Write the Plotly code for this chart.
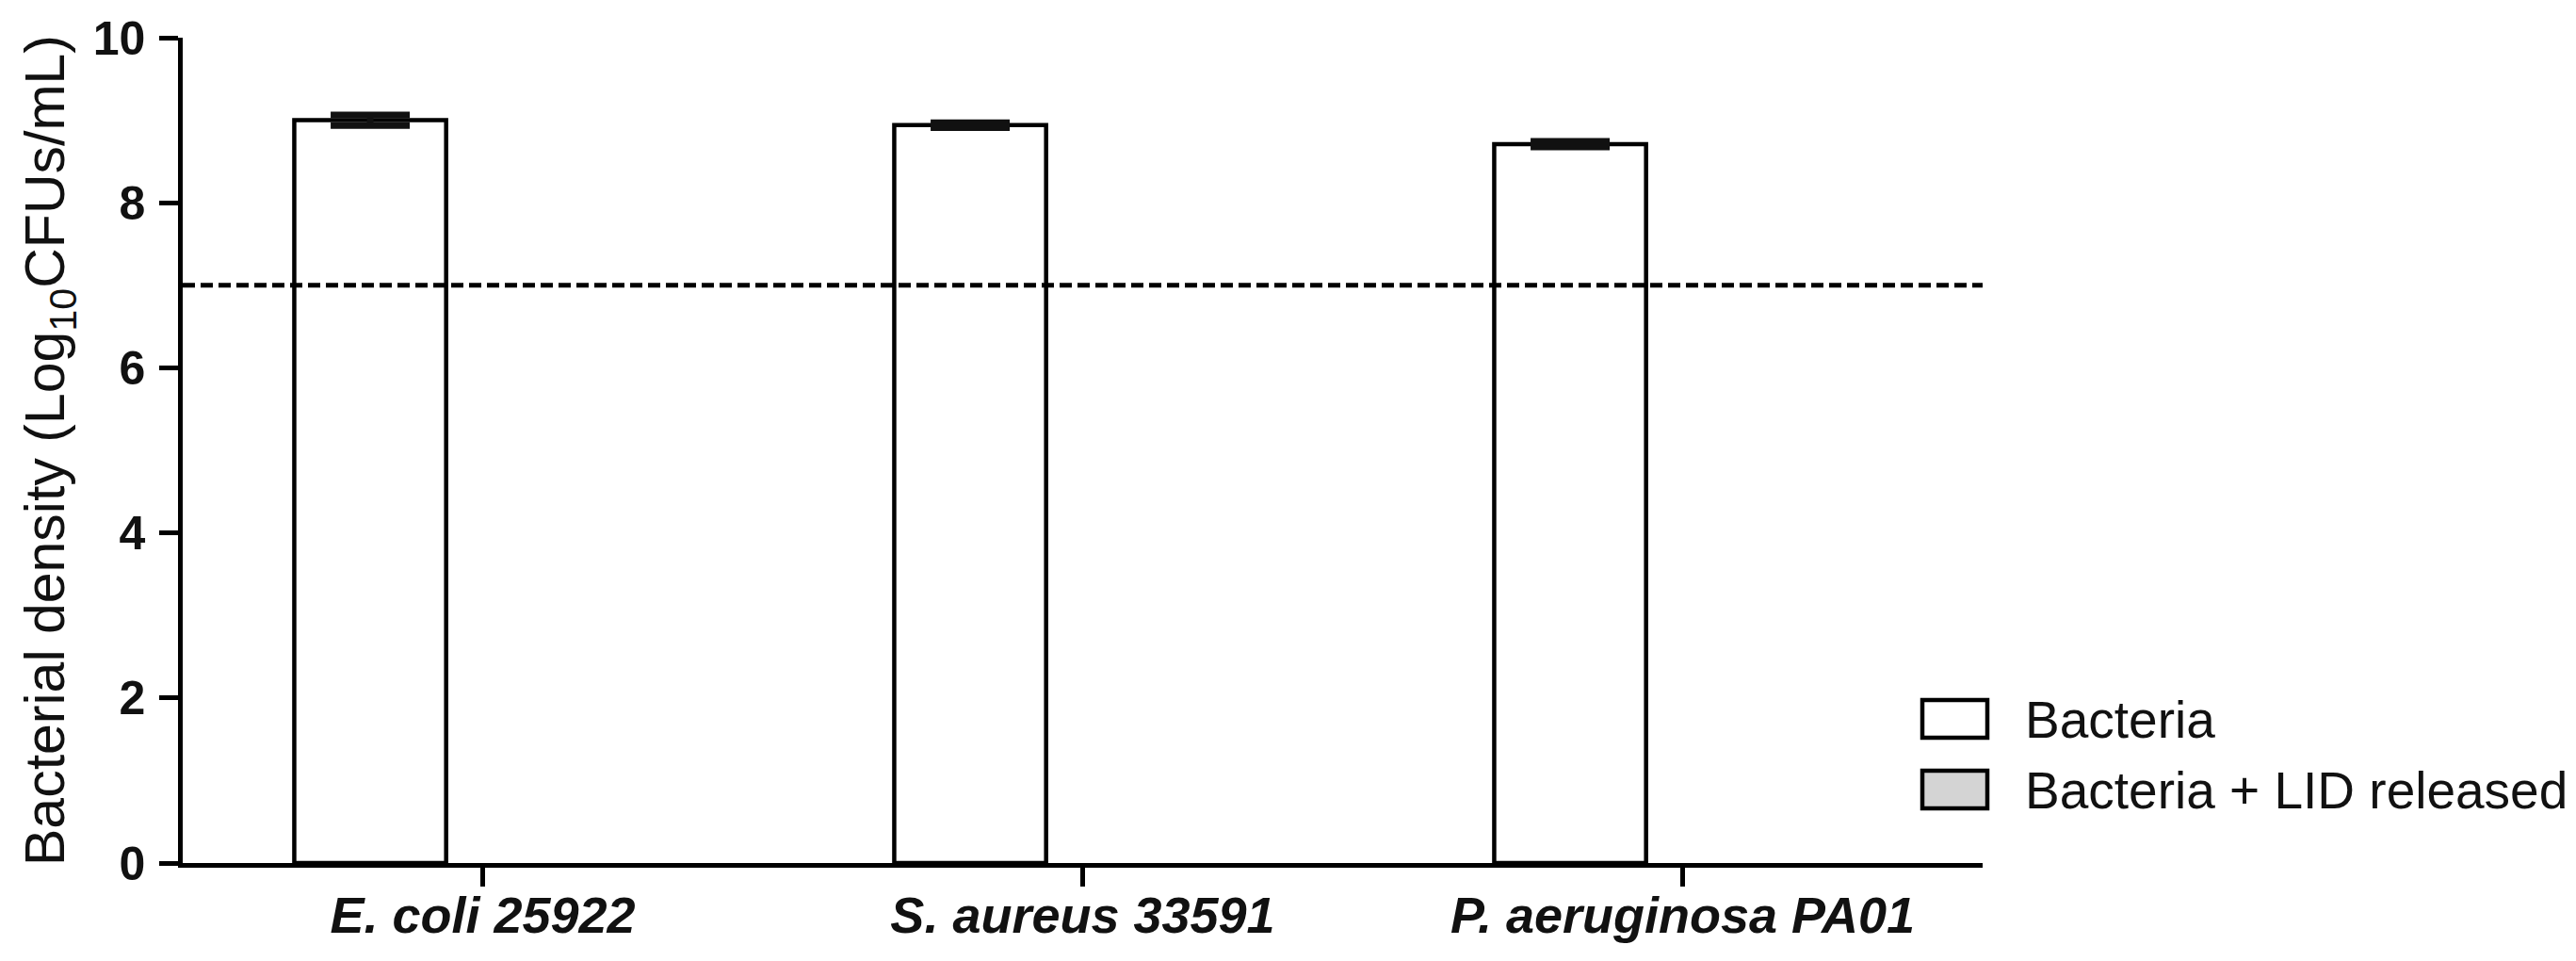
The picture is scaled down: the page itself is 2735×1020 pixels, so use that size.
import plotly.graph_objects as go

# ---- data ----
category_keys = ["E. coli 25922", "S. aureus 33591", "P. aeruginosa PA01"]
bacteria_values = [9.00, 8.94, 8.71]
bacteria_errors = [0.065, 0.03, 0.035]
lid_values = [0.0, 0.0, 0.0]
threshold = 7.0
y_ticks = [0, 2, 4, 6, 8, 10]
series_names = ["Bacteria", "Bacteria + LID released"]

W, H = 2735, 1020
L, R, T, B = 194, 630, 40, 104
PW, PH = W - L - R, H - T - B
FONT = "Liberation Sans, Arial, sans-serif"
LW = 4.5


def px_x(x):
    return (x - L) / PW


def px_y(y):
    return (H - B - y) / PH


fig = go.Figure()
fig.add_trace(go.Bar(
    x=category_keys, y=bacteria_values, name=series_names[0],
    marker=dict(color="white", line=dict(color="black", width=LW)),
    error_y=dict(type="data", array=bacteria_errors, visible=True,
                 color="#111111", thickness=7, width=42),
    showlegend=False,
))
fig.add_trace(go.Bar(
    x=category_keys, y=lid_values, name=series_names[1],
    marker=dict(color="#d4d4d4", line=dict(color="black", width=0)),
    showlegend=False,
))

# threshold dashed line
fig.add_shape(type="line", xref="paper", yref="y", x0=0, x1=1, y0=threshold, y1=threshold,
              line=dict(color="black", width=5, dash="13px,6px"), layer="above")

# custom legend (large boxes as in the reference)
legend_rows = [(743, 783, "white"), (818, 858, "#d4d4d4")]
for (ytop, ybot, fill), name in zip(legend_rows, series_names):
    fig.add_shape(type="rect", xref="paper", yref="paper",
                  x0=px_x(2041), x1=px_x(2110), y0=px_y(ybot), y1=px_y(ytop),
                  line=dict(color="black", width=LW), fillcolor=fill, layer="above")
    fig.add_annotation(xref="paper", yref="paper", x=px_x(2148), y=px_y((ytop + ybot) / 2 + 1),
                       text=name, showarrow=False, xanchor="left", yanchor="middle",
                       font=dict(family=FONT, size=55, color="#111111"))

fig.update_layout(
    width=W, height=H,
    margin=dict(l=L, r=R, t=T, b=B),
    paper_bgcolor="white", plot_bgcolor="white",
    barmode="group", bargap=0.25, bargroupgap=0.325,
    showlegend=False,
    font=dict(family=FONT, color="#111111"),
)
fig.update_xaxes(
    type="category", range=[-0.5, 2.5], automargin=False,
    tickvals=category_keys, ticktext=["<b><i>" + c + "</i></b>" for c in category_keys],
    showline=True, linecolor="black", linewidth=LW,
    ticks="outside", ticklen=20, tickwidth=LW, tickcolor="black",
    tickfont=dict(family=FONT, size=54, color="#111111"), ticklabelstandoff=-16,
    showgrid=False, zeroline=False,
)
fig.update_yaxes(
    range=[0, 10], automargin=False,
    tickvals=y_ticks, ticktext=["<b>%d</b>" % v for v in y_ticks],
    showline=True, linecolor="black", linewidth=LW,
    ticks="outside", ticklen=20, tickwidth=LW, tickcolor="black",
    tickfont=dict(family=FONT, size=50, color="#111111"), ticklabelstandoff=5,
    showgrid=False, zeroline=False,
    title=dict(text="Bacterial density (Log<sub>10</sub>CFUs/mL)",
               font=dict(family=FONT, size=59, color="#111111"), standoff=12),
)

fig.write_html(
    "out.html",
    config={"displayModeBar": False},
    post_script="document.body.style.margin='0';document.body.style.overflow='hidden';",
)
